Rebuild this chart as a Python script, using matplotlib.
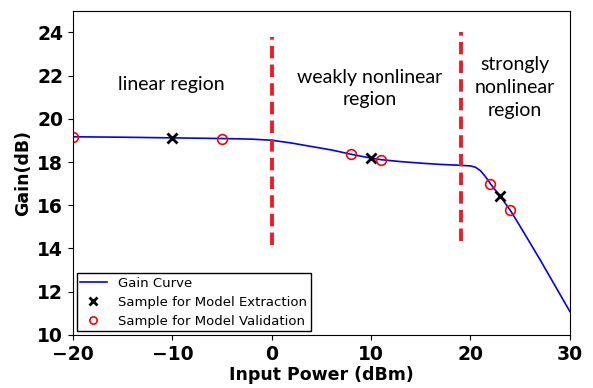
import matplotlib
matplotlib.use("Agg")
import matplotlib.pyplot as plt

# --- data ---
power = [-20, -15, -10, -5, -2, 0, 2, 4, 6, 8, 10, 11, 13, 15, 17, 19,
         20, 20.5, 21, 21.5, 22, 22.5, 23, 24, 25, 26, 27, 28, 29, 30]
gain = [19.17, 19.15, 19.12, 19.09, 19.06, 19.01, 18.88, 18.72, 18.56, 18.36,
        18.18, 18.11, 18.02, 17.95, 17.89, 17.85, 17.82, 17.76, 17.60, 17.33,
        17.00, 16.70, 16.41, 15.77, 15.02, 14.25, 13.48, 12.68, 11.88, 11.08]

extract_x = [-10, 10, 23]
extract_y = [19.12, 18.18, 16.41]

valid_x = [-20, -5, 8, 11, 22, 24]
valid_y = [19.17, 19.09, 18.36, 18.11, 17.00, 15.77]

boundary_x = [0, 19]
boundary_lo = [14.17, 14.36]
boundary_hi = [23.77, 24.0]

region_labels = ["linear region", "weakly nonlinear\nregion", "strongly\nnonlinear\nregion"]
region_x = [-10.1, 9.9, 24.5]
region_y = [21.6, 21.4, 21.45]

fig = plt.figure(figsize=(5.93, 3.88), dpi=100)
ax = fig.add_axes([0.123, 0.137, 0.838, 0.835])

ax.plot(power, gain, color="blue", lw=1.2, label="Gain Curve")
ax.plot(extract_x, extract_y, "x", color="black", ms=7, mew=2,
        label="Sample for Model Extraction")
ax.plot(valid_x, valid_y, "o", mfc="none", mec="red", ms=7, mew=1.2,
        label="Sample for Model Validation")

for bx, lo, hi in zip(boundary_x, boundary_lo, boundary_hi):
    ax.plot([bx, bx], [lo, hi], color="#ee1c25", lw=2.8, ls=(0, (3.2, 1.6)))

for txt, tx, ty in zip(region_labels, region_x, region_y):
    ax.text(tx, ty, txt, ha="center", va="center", fontsize=14,
            family="Lato", linespacing=1.4)

ax.set_xlim(-20, 30)
ax.set_ylim(10, 25)
ax.set_xticks([-20, -10, 0, 10, 20, 30])
ax.set_yticks([10, 12, 14, 16, 18, 20, 22, 24])
for lbl in ax.get_xticklabels() + ax.get_yticklabels():
    lbl.set_fontweight("bold")
    lbl.set_fontsize(13.5)
ax.set_xlabel("Input Power (dBm)", fontsize=12.5, fontweight="bold", labelpad=2)
ax.set_ylabel("Gain(dB)", fontsize=12.5, fontweight="bold", labelpad=4)

leg = ax.legend(loc="lower left", fontsize=9.5, fancybox=False,
                edgecolor="black", framealpha=1, borderpad=0.25,
                labelspacing=0.45, handlelength=2.0, handletextpad=0.9,
                borderaxespad=0.3, markerscale=0.75)
leg.get_frame().set_linewidth(1.0)

fig.savefig("out.png", dpi=100)
